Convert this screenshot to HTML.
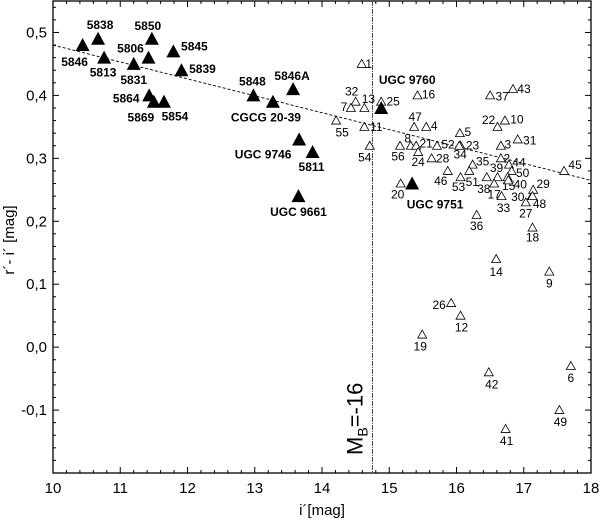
<!DOCTYPE html>
<html><head><meta charset="utf-8"><style>
html,body{margin:0;padding:0;background:#fff;}
svg{display:block;font-family:"Liberation Sans",sans-serif;}
</style></head><body>
<svg id="chart" width="602" height="521" viewBox="0 0 602 521" xmlns="http://www.w3.org/2000/svg"></svg>
<script>
// ---- data ----
const bigNames = ["5846","5838","5813","5831","5806","5850","5845","5839","5864","5869","5854","5848","CGCG 20-39","5846A","UGC 9746","5811","UGC 9661","UGC 9760","UGC 9751"];
const bigI = [10.44,10.67,10.76,11.2,11.42,11.47,11.79,11.91,11.43,11.5,11.65,12.98,13.27,13.57,13.66,13.86,13.65,14.88,15.34];
const bigC = [0.48,0.49,0.46,0.45,0.46,0.49,0.47,0.44,0.40,0.39,0.39,0.40,0.39,0.41,0.33,0.31,0.24,0.38,0.26];
const bigLabelOff = [[-8,17],[2,-14],[-1,15],[0,16],[-18,-9],[-4,-13],[21,-5],[21,-1],[-23,3],[-13,16],[11,15],[-1,-14],[-7,16],[-1,-13],[-36,15],[-1,15],[0,16],[26,-28],[23,21]];

const smallNames = ["1","32","13","7","25","16","55","11","54","47","4","5","8","21","56","24","52","23","28","34","35","46","51","53","22","10","37","43","3","31","2","44","39","50","38","15","40","17","33","30","29","27","48","36","18","45","20","14","9","26","12","19","6","42","49","41"];
const smallI = [14.59,14.5,14.63,14.43,14.88,15.42,14.21,14.63,14.71,15.37,15.55,16.05,15.32,15.4,15.16,15.43,15.71,16.06,15.63,16.04,16.24,15.87,16.19,16.06,16.61,16.72,16.5,16.84,16.66,16.91,16.66,16.78,16.61,16.82,16.45,16.76,16.77,16.56,16.67,17.12,17.14,17.03,17.13,16.3,17.13,17.6,15.17,16.59,17.38,15.92,16.06,15.49,17.7,16.48,17.53,16.73];
const smallC = [0.45,0.39,0.38,0.38,0.39,0.40,0.36,0.35,0.32,0.35,0.35,0.34,0.32,0.32,0.32,0.31,0.32,0.32,0.30,0.32,0.29,0.28,0.28,0.27,0.35,0.36,0.40,0.41,0.32,0.33,0.30,0.29,0.27,0.28,0.27,0.27,0.265,0.26,0.24,0.24,0.25,0.23,0.24,0.21,0.19,0.28,0.26,0.14,0.12,0.07,0.05,0.02,-0.03,-0.04,-0.10,-0.13];
const smallLabelOff = [[7,0],[-4,-10],[4,-9],[-7,-1],[12,0],[11,-1],[6,12],[12,0],[-5,12],[1,-10],[8,-1],[8,-1],[-3,-7],[10,-2],[-2,11],[0,10],[11,-1],[12,0],[11,0],[1,9],[10,-3],[-7,10],[3,11],[-2,10],[-9,-7],[12,-1],[12,1],[11,0],[7,-1],[12,1],[6,0],[10,-2],[-1,-9],[11,2],[-3,12],[1,9],[12,4],[0,11],[2,12],[-14,1],[10,-6],[0,11],[7,8],[0,11],[0,10],[11,-6],[-3,11],[0,13],[0,12],[-12,2],[1,12],[-2,12],[0,12],[3,12],[1,12],[1,12]];

const xTicks = [10,11,12,13,14,15,16,17,18];
const yTicks = [-0.1,0.0,0.1,0.2,0.3,0.4,0.5];
const yTickLabels = ["-0,1","0,0","0,1","0,2","0,3","0,4","0,5"];
const trendI = [10,18];
const trendC = [0.48,0.265];
const limitI = [14.75];

// ---- axes ----
const L=53,R=591,T=1,B=473;
const xMin=10,xMax=18,yMin=-0.2,yMax=0.55;
const X=v=>L+(v-xMin)/(xMax-xMin)*(R-L);
const Y=v=>B-(v-yMin)/(yMax-yMin)*(B-T);
const NS="http://www.w3.org/2000/svg";
const svg=document.getElementById('chart');
function mk(tag,attrs,parent){const e=document.createElementNS(NS,tag);for(const k in attrs)e.setAttribute(k,attrs[k]);(parent||svg).appendChild(e);return e;}

// frame
const frame=mk('rect',{x:L,y:T,width:R-L,height:B-T,fill:'none',stroke:'#000','stroke-width':1.3});



// ticks
const ticks=mk('g',{stroke:'#000','stroke-width':1});


for(let k=0;k<=40;k++){const v=10+k*0.2;const x=X(v);const len=(k%5===0)?6:3;
  mk('line',{x1:x,y1:B,x2:x,y2:B-len},ticks);mk('line',{x1:x,y1:T,x2:x,y2:T+len},ticks);}
for(let k=0;k<=37;k++){const v=-0.2+k*0.02;const y=Y(v);const isMaj=Math.abs(Math.round(v*10)-v*10)<1e-6;const len=isMaj?6:3;
  mk('line',{x1:L,y1:y,x2:L+len,y2:y},ticks);mk('line',{x1:R,y1:y,x2:R-len,y2:y},ticks);}

xTicks.forEach(v=>{const t=mk('text',{x:X(v),y:493,'text-anchor':'middle','font-size':15});t.textContent=v;
  
  });
yTicks.forEach((v,i)=>{const t=mk('text',{x:47,y:Y(v)+5,'text-anchor':'end','font-size':15});t.textContent=yTickLabels[i];
  
  });

const xt=mk('text',{x:322,y:515,'text-anchor':'middle','font-size':15});xt.textContent="i´[mag]";


const yt=mk('text',{x:0,y:0,'text-anchor':'middle','font-size':15,transform:'translate(14,240) rotate(-90)'});yt.textContent="r´- i´ [mag]";



// trend line
const tl=mk('line',{x1:X(trendI[0]),y1:Y(trendC[0]),x2:X(trendI[1]),y2:Y(trendC[1]),stroke:'#000','stroke-width':0.9,'stroke-dasharray':'3,2'});



// limit line
const ll=mk('line',{x1:X(limitI[0]),y1:T,x2:X(limitI[0]),y2:B,stroke:'#444','stroke-width':1,'stroke-dasharray':'5,1,1,1'});


const lt=mk('text',{x:0,y:0,'font-size':22,transform:'translate('+(X(limitI[0])-10)+',455) rotate(-90)'});


lt.innerHTML='M<tspan font-size="14" dy="5">B</tspan><tspan dy="-5">=-16</tspan>';

// small (open) triangles
smallNames.forEach((n,i)=>{const x=X(smallI[i]),y=Y(smallC[i]);
  const p=mk('polygon',{points:`${x-4.5},${y+3.5} ${x+4.5},${y+3.5} ${x},${y-4.5}`,fill:'#fff',stroke:'#000','stroke-width':0.8});
  
  
  const t=mk('text',{x:x+smallLabelOff[i][0],y:y+smallLabelOff[i][1]+4,'text-anchor':'middle','font-size':12});t.textContent=n;
  
  });

// big (filled) triangles
bigNames.forEach((n,i)=>{const x=X(bigI[i]),y=Y(bigC[i]);
  const p=mk('polygon',{points:`${x-7},${y+6} ${x+7},${y+6} ${x},${y-7}`,fill:'#000'});
  
  
  const t=mk('text',{x:x+bigLabelOff[i][0],y:y+bigLabelOff[i][1]+4,'text-anchor':'middle','font-size':12,'font-weight':'bold'});t.textContent=n;
  
  });
</script>
</body></html>
